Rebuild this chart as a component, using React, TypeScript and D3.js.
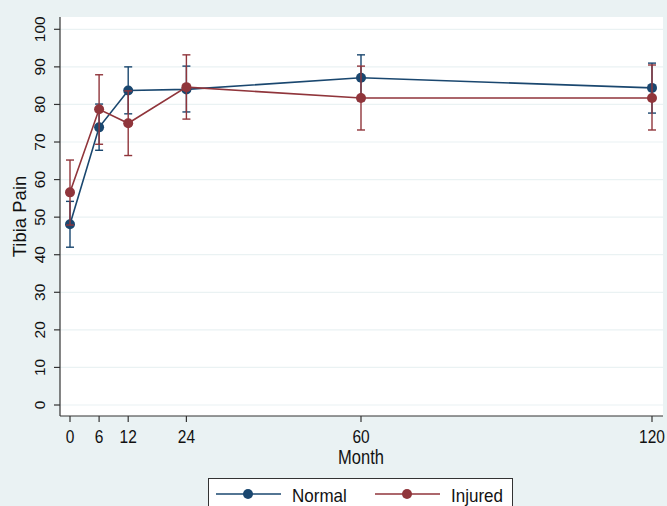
import React from 'react';
import * as d3 from 'd3';

const months = [0, 6, 12, 24, 60, 120];
const yTicks = [0, 10, 20, 30, 40, 50, 60, 70, 80, 90, 100];

const normalMean = [48.1, 73.9, 83.7, 84.0, 87.1, 84.4];
const normalLow = [42.0, 67.8, 77.5, 78.0, 81.0, 77.7];
const normalHigh = [54.2, 80.1, 90.0, 90.2, 93.2, 91.0];

const injuredMean = [56.6, 78.7, 75.0, 84.6, 81.7, 81.7];
const injuredLow = [47.9, 69.4, 66.4, 76.1, 73.2, 73.2];
const injuredHigh = [65.2, 87.9, 83.6, 93.2, 90.2, 90.5];

const W = 667;
const H = 506;
const plot = { left: 60, right: 663, top: 17, bottom: 416 };

const BLUE = '#1a476f';
const RED = '#90353b';
const BG = '#eaf2f3';
const FONT = '"Liberation Sans", Arial, sans-serif';

export default function App() {
  const x = d3.scaleLinear().domain([0, 120]).range([70, 652]);
  const y = d3.scaleLinear().domain([0, 100]).range([405, 29.3]);

  const line = d3.line<number>()
    .x((d, i) => x(months[i]))
    .y(d => y(d));

  const series = [
    { name: 'Normal', color: BLUE, mean: normalMean, low: normalLow, high: normalHigh },
    { name: 'Injured', color: RED, mean: injuredMean, low: injuredLow, high: injuredHigh },
  ];

  return (
    <svg width={W} height={H} style={{ position: 'absolute', left: 0, top: 0 }} fontFamily={FONT}>
      <rect x={0} y={0} width={W} height={H} fill={BG} />
      <rect x={plot.left} y={plot.top} width={plot.right - plot.left} height={plot.bottom - plot.top} fill="#fff" />

      {/* gridlines */}
      {yTicks.map(t => (
        <line key={'g' + t} x1={plot.left} x2={plot.right} y1={y(t)} y2={y(t)} stroke={BG} strokeWidth={1.2} />
      ))}

      {/* axes */}
      <line x1={plot.left} x2={plot.left} y1={plot.top} y2={plot.bottom} stroke="#333" strokeWidth={1.2} />
      <line x1={plot.left} x2={plot.right} y1={plot.bottom} y2={plot.bottom} stroke="#333" strokeWidth={1.2} />

      {yTicks.map(t => (
        <g key={'yt' + t}>
          <line x1={plot.left - 6} x2={plot.left} y1={y(t)} y2={y(t)} stroke="#333" strokeWidth={1.2} />
          <text
            transform={`translate(44.5, ${y(t)}) rotate(-90)`}
            textAnchor="middle"
            fontSize={15.5}
            fill="#111"
          >{t}</text>
        </g>
      ))}
      {months.map(m => (
        <g key={'xt' + m}>
          <line x1={x(m)} x2={x(m)} y1={plot.bottom} y2={plot.bottom + 6} stroke="#333" strokeWidth={1.2} />
          <text
            transform={`translate(${x(m)}, 443) scale(1, 1.16)`}
            textAnchor="middle"
            fontSize={15.5}
            fill="#111"
          >{m}</text>
        </g>
      ))}
      <text
        transform={`translate(${x(60)}, 464) scale(1, 1.22)`}
        textAnchor="middle"
        fontSize={16.5}
        fill="#111"
      >Month</text>
      <text
        transform={`translate(25.5, ${(plot.top + plot.bottom) / 2}) rotate(-90)`}
        textAnchor="middle"
        fontSize={18.5}
        fill="#111"
      >Tibia Pain</text>

      {/* series */}
      {series.map(s => (
        <g key={s.name}>
          <path d={line(s.mean) || ''} fill="none" stroke={s.color} strokeWidth={1.6} />
          {months.map((m, i) => (
            <g key={m} stroke={s.color} strokeWidth={1.4}>
              <line x1={x(m)} x2={x(m)} y1={y(s.low[i])} y2={y(s.high[i])} />
              <line x1={x(m) - 4} x2={x(m) + 4} y1={y(s.low[i])} y2={y(s.low[i])} />
              <line x1={x(m) - 4} x2={x(m) + 4} y1={y(s.high[i])} y2={y(s.high[i])} />
            </g>
          ))}
          {months.map((m, i) => (
            <circle key={'c' + m} cx={x(m)} cy={y(s.mean[i])} r={5} fill={s.color} />
          ))}
        </g>
      ))}

      {/* legend */}
      <rect x={208.5} y={478.5} width={304} height={40} fill="#fff" stroke="#333" strokeWidth={1} />
      {series.map((s, i) => {
        const lx = 216 + i * 159;
        return (
          <g key={'lg' + s.name}>
            <line x1={lx} x2={lx + 65} y1={494} y2={494} stroke={s.color} strokeWidth={1.6} />
            <circle cx={lx + 32} cy={494} r={5} fill={s.color} />
            <text
              transform={`translate(${lx + 76}, 501.5) scale(1, 1.1)`}
              fontSize={17}
              fill="#111"
            >{s.name}</text>
          </g>
        );
      })}
    </svg>
  );
}
